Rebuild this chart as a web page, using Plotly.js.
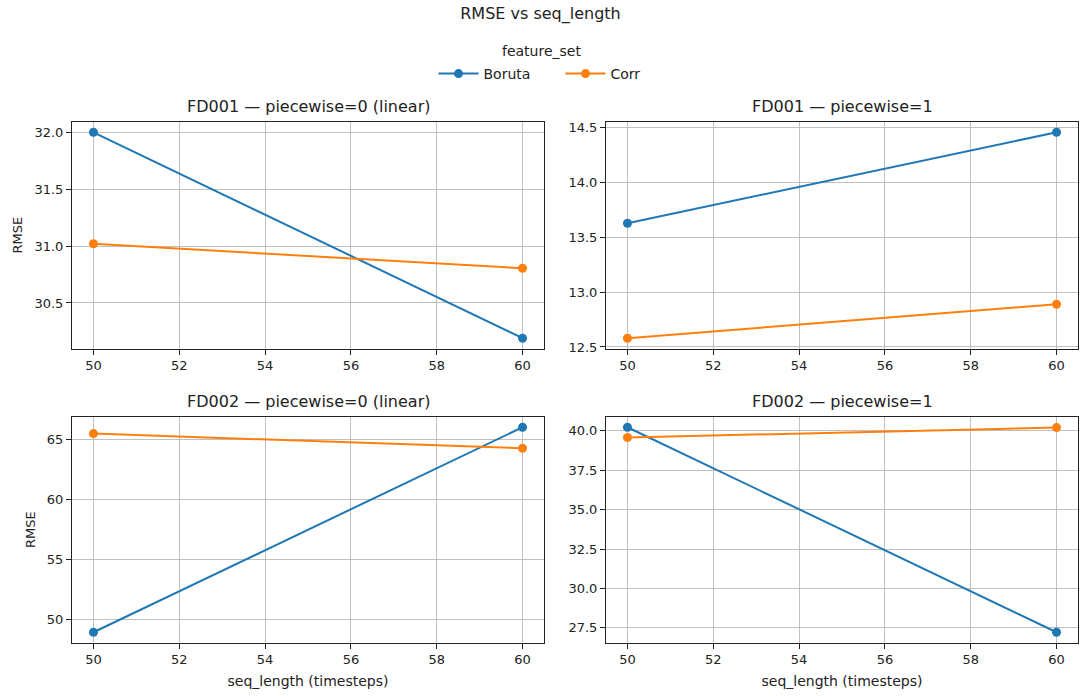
<!DOCTYPE html>
<html>
<head>
<meta charset="utf-8">
<script src="https://cdn.plot.ly/plotly-3.0.1.min.js"></script>
<style>html,body{margin:0;padding:0;background:#fff;}</style>
</head>
<body>
<div id="chart" style="width:1081px;height:696px;"></div>
<script>
// ---- data ----
const seqLength = [50, 60];
const featureSets = ["Boruta", "Corr"];
const panelTitles = ["FD001 — piecewise=0 (linear)", "FD001 — piecewise=1", "FD002 — piecewise=0 (linear)", "FD002 — piecewise=1"];
const borutaFD001pw0 = [32.0, 30.19];
const corrFD001pw0 = [31.02, 30.805];
const borutaFD001pw1 = [13.63, 14.46];
const corrFD001pw1 = [12.58, 12.89];
const borutaFD002pw0 = [48.9, 66.0];
const corrFD002pw0 = [65.47, 64.25];
const borutaFD002pw1 = [40.23, 27.22];
const corrFD002pw1 = [39.58, 40.21];
const xTicks = [50, 52, 54, 56, 58, 60];

const colors = {Boruta: "#1f77b4", Corr: "#ff7f0e"};
const panels = [
  {b: borutaFD001pw0, c: corrFD001pw0, ax: ""},
  {b: borutaFD001pw1, c: corrFD001pw1, ax: "2"},
  {b: borutaFD002pw0, c: corrFD002pw0, ax: "3"},
  {b: borutaFD002pw1, c: corrFD002pw1, ax: "4"}
];

const traces = [];
panels.forEach((p, i) => {
  [[featureSets[0], p.b], [featureSets[1], p.c]].forEach(([name, vals]) => {
    traces.push({
      x: seqLength, y: vals, type: "scatter", mode: "lines+markers",
      name: name, legendgroup: name, showlegend: i === 0,
      xaxis: "x" + p.ax, yaxis: "y" + p.ax,
      line: {color: colors[name], width: 2},
      marker: {color: colors[name], size: 9}
    });
  });
});

function pad(arr) {
  const lo = Math.min(...arr), hi = Math.max(...arr), d = (hi - lo) * 0.05;
  return [lo - d, hi + d];
}

const W = 1081, H = 696;
const colDom = [[72 / W, 544 / W], [606 / W, 1078 / W]];
const rowDom = [[1 - 348.5 / H, 1 - 122 / H], [1 - 642.5 / H, 1 - 417 / H]];
const tickFont = {family: "DejaVu Sans", size: 13, color: "#222"};

const layout = {
  width: W, height: H,
  margin: {l: 0, r: 0, t: 0, b: 0},
  paper_bgcolor: "#fff", plot_bgcolor: "#fff",
  font: {family: "DejaVu Sans", color: "#222"},
  title: {text: "RMSE vs seq_length", x: 0.5, xanchor: "center", y: 1 - 13 / H, yanchor: "middle", font: {size: 16, family: "DejaVu Sans", color: "#222"}},
  showlegend: true,
  legend: {
    orientation: "h", x: 0.5 + 20 / W, xanchor: "center", y: 1 - 74 / H, yanchor: "middle",
    font: {size: 14, family: "DejaVu Sans"},
    itemwidth: 40, entrywidth: 72, entrywidthmode: "pixels",
    tracegroupgap: 0, bgcolor: "rgba(0,0,0,0)"
  },
  annotations: [{
    text: "feature_set", xref: "paper", yref: "paper", x: 0.5 + 1 / W, y: 1 - 51 / H,
    xanchor: "center", yanchor: "middle", showarrow: false,
    font: {size: 14, family: "DejaVu Sans", color: "#222"}
  }]
};

const yDtick = [0.5, 0.5, 5, 2.5];
const yFmt = [".1f", ".1f", "d", ".1f"];
panels.forEach((p, i) => {
  const col = i % 2, row = Math.floor(i / 2);
  const xa = "xaxis" + p.ax, ya = "yaxis" + p.ax;
  const common = {
    showline: true, linecolor: "#222", linewidth: 1, mirror: true,
    ticks: "outside", ticklen: 5, tickwidth: 1, tickcolor: "#222",
    showgrid: true, gridcolor: "#b0b0b0", gridwidth: 0.8,
    zeroline: false, tickfont: tickFont
  };
  layout[xa] = Object.assign({}, common, {
    domain: colDom[col], anchor: "y" + p.ax,
    range: pad(seqLength), tickmode: "array", tickvals: xTicks, ticktext: xTicks.map(String),
    title: row === 1 ? {text: "seq_length (timesteps)", font: {size: 14, family: "DejaVu Sans", color: "#222"}, standoff: 10} : {text: ""}
  });
  layout[ya] = Object.assign({}, common, {
    domain: rowDom[row], anchor: "x" + p.ax,
    range: pad(p.b.concat(p.c)), dtick: yDtick[i], tick0: 0, tickformat: yFmt[i],
    title: col === 0 ? {text: "RMSE", font: {size: 13, family: "DejaVu Sans", color: "#222"}, standoff: 8} : {text: ""}
  });
  layout.annotations.push({
    text: panelTitles[i], xref: "paper", yref: "paper",
    x: (colDom[col][0] + colDom[col][1]) / 2, y: rowDom[row][1],
    xanchor: "center", yanchor: "bottom", yshift: 4, showarrow: false,
    font: {size: 16, family: "DejaVu Sans", color: "#222"}
  });
});

Plotly.newPlot("chart", traces, layout, {displayModeBar: false, staticPlot: true});
</script>
</body>
</html>
